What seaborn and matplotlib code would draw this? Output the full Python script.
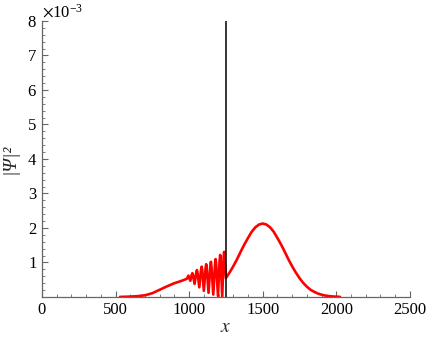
import seaborn as sns
import pandas as pd
import matplotlib.pyplot as plt
from matplotlib.ticker import MultipleLocator, FixedLocator, ScalarFormatter

# |Psi|^2, in units of 1e-3
x_left = [530, 550, 600, 650, 700, 750, 800, 850, 900, 950, 985]
psi_left = [0.003, 0.005, 0.012, 0.025, 0.05, 0.11, 0.21, 0.31, 0.40, 0.47, 0.53]

# interference fringes left of the barrier
x_osc = [995, 1008, 1018, 1022, 1026, 1037, 1049, 1053, 1057, 1069,
         1081, 1085, 1089, 1100, 1112, 1116, 1120, 1132, 1144, 1148,
         1152, 1164, 1176, 1180, 1184, 1196, 1207, 1211, 1215, 1225,
         1234, 1238]
psi_osc = [0.62, 0.47, 0.65, 0.69, 0.64, 0.38, 0.72, 0.78, 0.71, 0.28,
           0.79, 0.88, 0.78, 0.18, 0.84, 0.95, 0.83, 0.12, 0.89, 1.02,
           0.88, 0.07, 0.94, 1.10, 0.94, 0.03, 1.04, 1.22, 1.03, 0.01,
           1.12, 1.31]

x_right = [1250, 1275, 1300, 1325, 1350, 1375, 1400, 1425, 1450, 1475,
           1500, 1525, 1550, 1575, 1600, 1625, 1650, 1675, 1700, 1725,
           1750, 1775, 1800, 1825, 1850, 1875, 1900, 1925, 1950, 1975,
           2000, 2025]
psi_right = [0.55, 0.71, 0.89, 1.09, 1.31, 1.52, 1.71, 1.89, 2.02, 2.10,
             2.13, 2.10, 2.02, 1.89, 1.71, 1.52, 1.31, 1.09, 0.89, 0.71,
             0.55, 0.41, 0.30, 0.21, 0.15, 0.10, 0.066, 0.042, 0.026, 0.016,
             0.009, 0.005]

barrier_x = 1250
x_ticks = [0, 500, 1000, 1500, 2000, 2500]
y_ticks = [1, 2, 3, 4, 5, 6, 7, 8]

df = pd.DataFrame({
    'x': x_left + x_osc + x_right,
    'psi': [v * 1e-3 for v in psi_left + psi_osc + psi_right],
})

sns.set_style('ticks')
plt.rcParams['font.family'] = ['Liberation Serif', 'DejaVu Serif']
plt.rcParams['mathtext.fontset'] = 'stix'

fig = plt.figure(figsize=(4.36, 3.37), dpi=100)
ax = fig.add_axes([0.0963, 0.1187, 0.8437, 0.819])

sns.lineplot(data=df, x='x', y='psi', color='red', linewidth=1.9,
             sort=False, estimator=None, ax=ax)
ax.axvline(barrier_x, color='black', linewidth=1.1, zorder=5)

ax.set_xlim(0, 2500)
ax.set_ylim(0, 8e-3)
ax.xaxis.set_major_locator(FixedLocator(x_ticks))
ax.xaxis.set_minor_locator(MultipleLocator(100))
ax.yaxis.set_major_locator(FixedLocator([v * 1e-3 for v in y_ticks]))
ax.yaxis.set_minor_locator(MultipleLocator(0.2e-3))

fmt = ScalarFormatter(useMathText=True)
fmt.set_powerlimits((0, 0))
ax.yaxis.set_major_formatter(fmt)
ax.yaxis.get_offset_text().set_fontsize(12)

for s in ['top', 'right']:
    ax.spines[s].set_visible(False)
for s in ['left', 'bottom']:
    ax.spines[s].set_color('#666666')
    ax.spines[s].set_linewidth(0.9)

ax.tick_params(which='both', direction='in', colors='#666666',
               labelcolor='black', labelsize=12)
ax.tick_params(which='major', length=4, width=0.8)
ax.tick_params(which='minor', length=2.5, width=0.6)

ax.set_xlabel('$x$', fontsize=14, labelpad=1)
ax.set_ylabel('|Ψ|²', fontsize=14, fontstyle='italic', labelpad=6)

fig.savefig('out.png', dpi=100)
